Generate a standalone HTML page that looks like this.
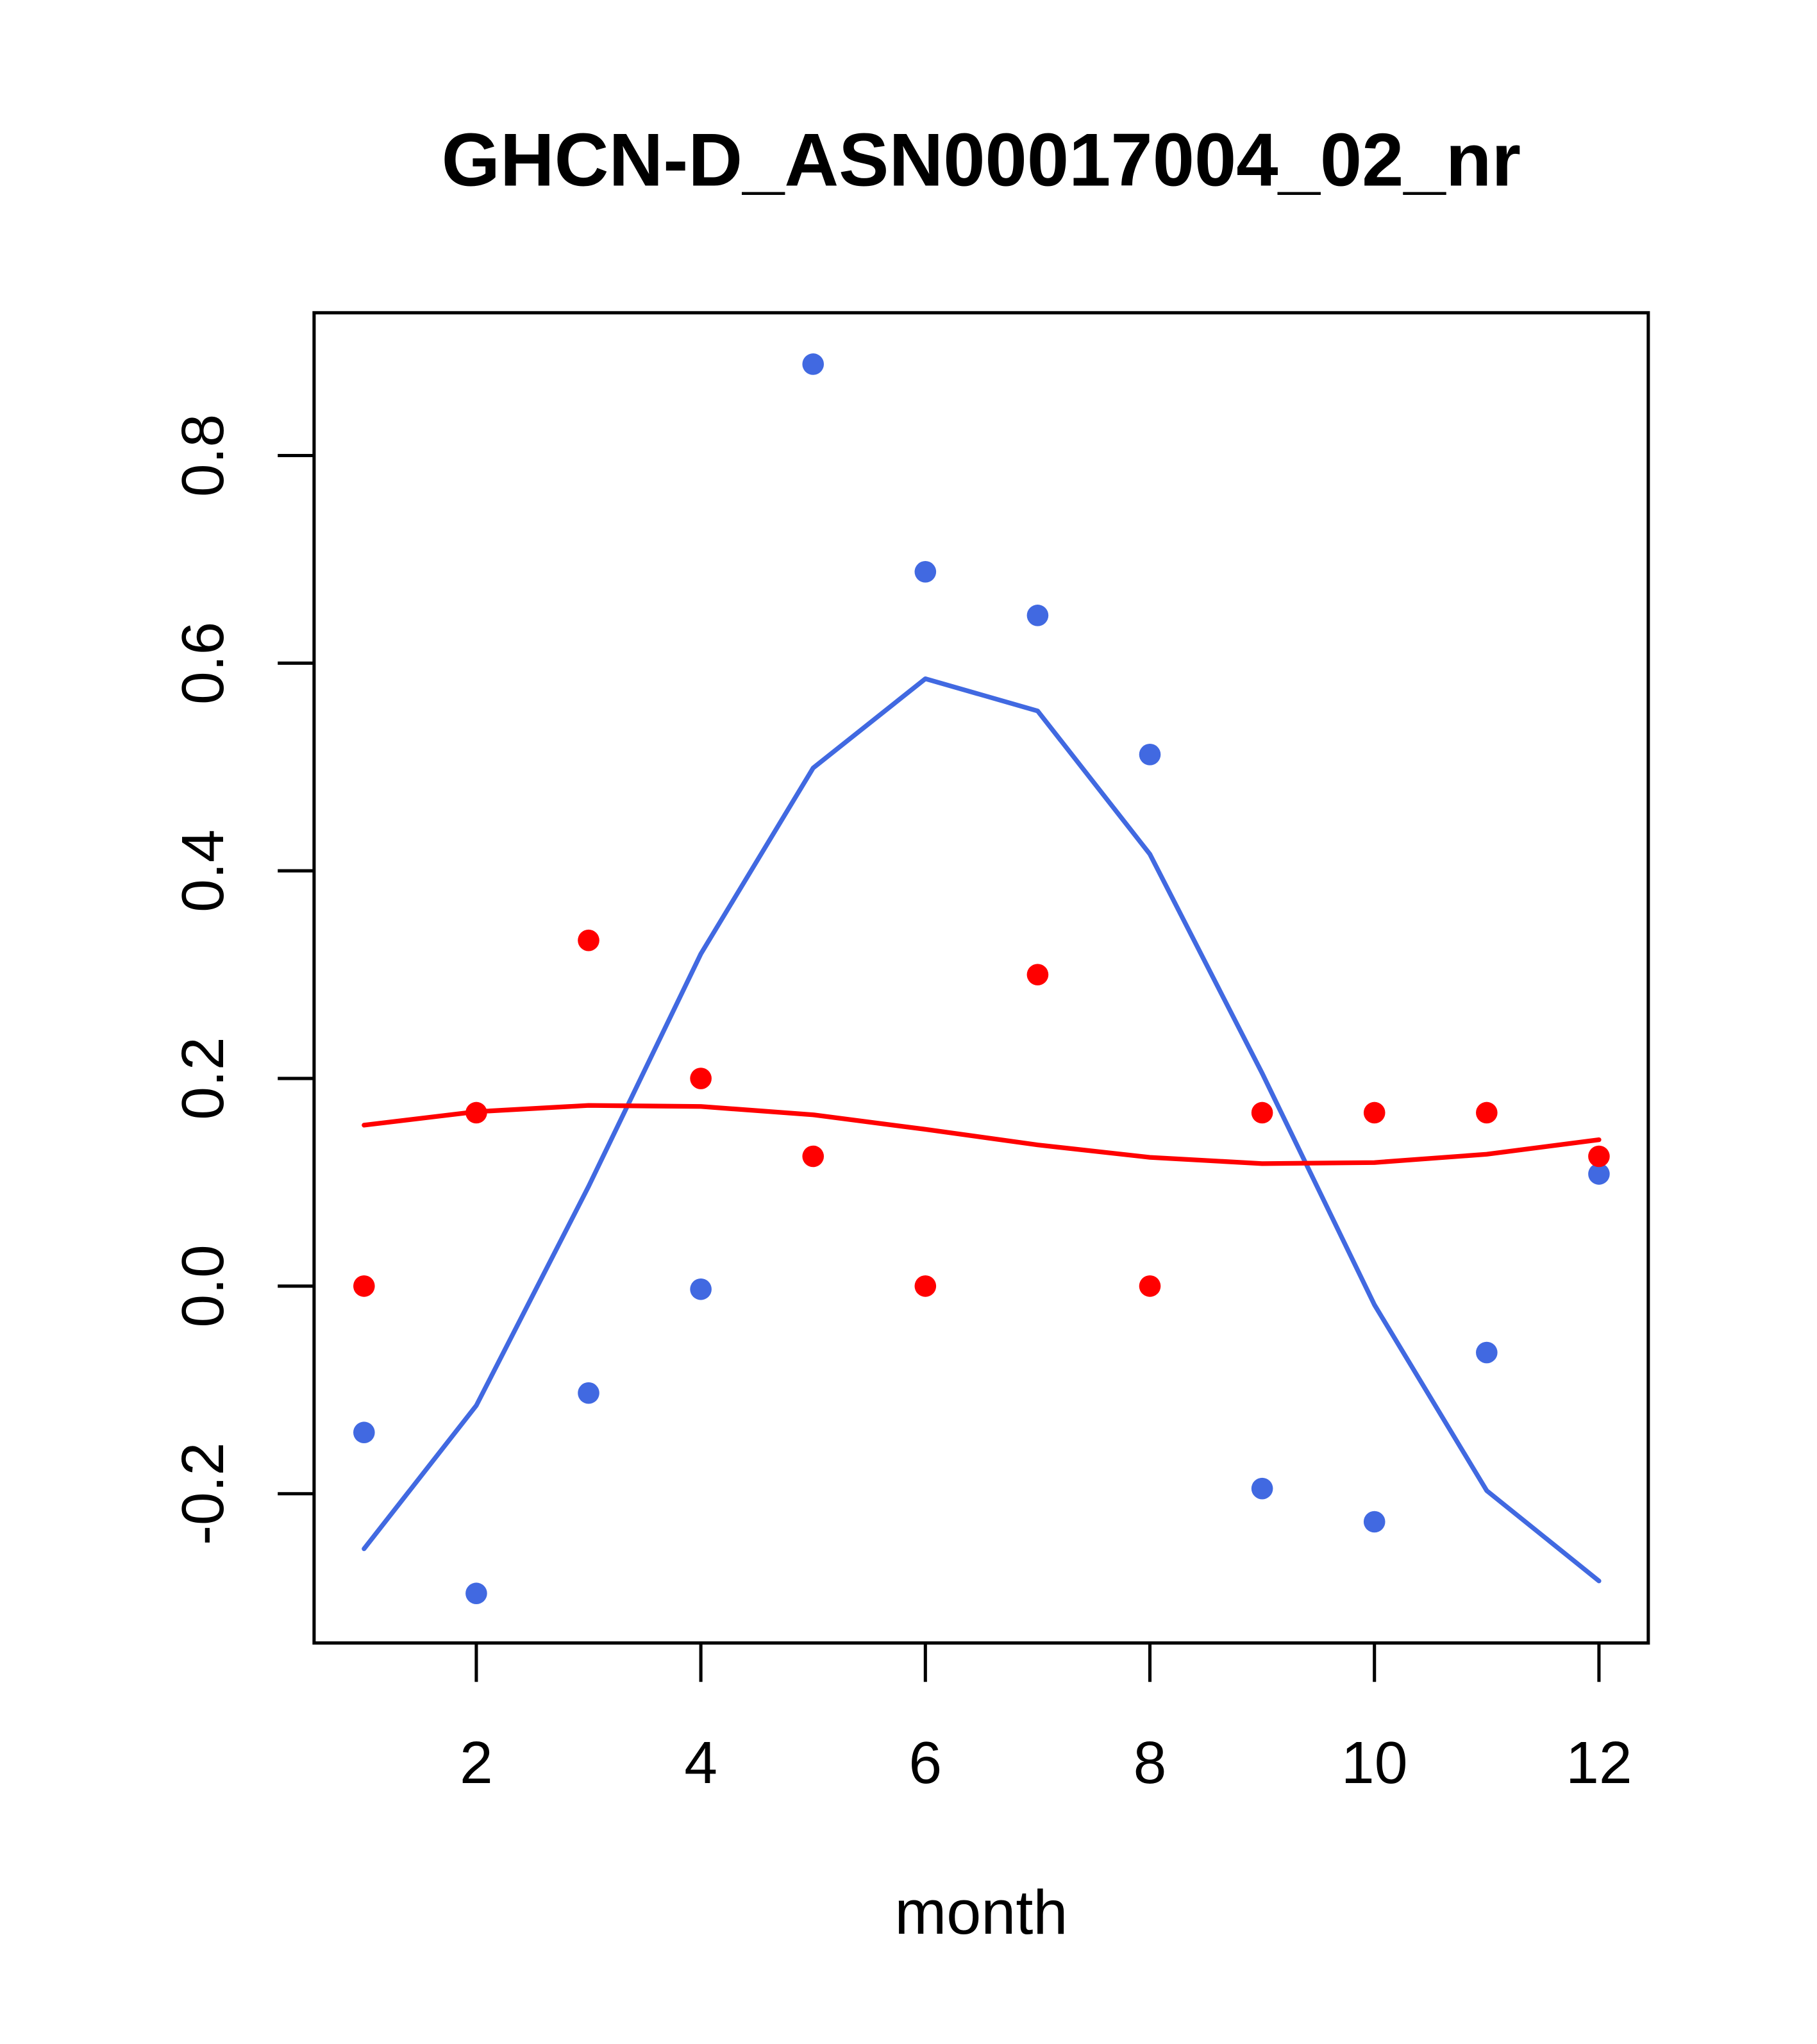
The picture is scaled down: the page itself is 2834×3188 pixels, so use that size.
<!DOCTYPE html>
<html><head><meta charset="utf-8"><style>html,body{margin:0;padding:0;background:#fff}svg{display:block}</style></head>
<body>
<svg id="chart" width="2834" height="3188" viewBox="0 0 1400 1575" preserveAspectRatio="none" xmlns="http://www.w3.org/2000/svg" font-family="Liberation Sans, Arial, sans-serif">
<rect width="1400" height="1575" fill="#fff"/>
<text x="756" y="143" text-anchor="middle" font-size="58" font-weight="bold">GHCN-D_ASN00017004_02_nr</text>
<rect x="242" y="241" width="1028" height="1025" fill="none" stroke="#000" stroke-width="2.5"/>
<text x="756" y="1490" text-anchor="middle" font-size="48">month</text>
<g id="axes"></g>
<g id="marks"></g>
</svg>
<script>
const months = [1,2,3,4,5,6,7,8,9,10,11,12];
const bluePoints = [-0.141,-0.296,-0.103,-0.003,0.888,0.688,0.646,0.512,-0.195,-0.227,-0.064,0.108];
const blueLine = [-0.253,-0.115,0.096,0.320,0.499,0.585,0.554,0.416,0.205,-0.018,-0.197,-0.284];
const redPoints = [0,0.167,0.333,0.2,0.125,0,0.3,0,0.167,0.167,0.167,0.125];
const redLine = [0.155,0.168,0.174,0.173,0.165,0.151,0.136,0.124,0.118,0.119,0.127,0.141];
const xTicks = [2,4,6,8,10,12];
const yTicks = [-0.2,0,0.2,0.4,0.6,0.8];
const yTickLabels = ["-0.2","0.0","0.2","0.4","0.6","0.8"];

const NS = "http://www.w3.org/2000/svg";
const xs = m => 280.5 + (m - 1) * 86.5;
const ys = v => 991 - v * 800;
const axes = document.getElementById('axes');
const marks = document.getElementById('marks');
function mk(tag, attrs, parent) {
  const e = document.createElementNS(NS, tag);
  for (const k in attrs) e.setAttribute(k, attrs[k]);
  parent.appendChild(e);
  return e;
}
xTicks.forEach(t => {
  const l = mk('line', {x1: xs(t), x2: xs(t), y1: 1266, y2: 1296, stroke: '#000', 'stroke-width': 2.5}, axes);
  
  
  const tx = mk('text', {x: xs(t), y: 1374, 'text-anchor': 'middle', 'font-size': 46}, axes);
  tx.textContent = String(t);
  
  
});
yTicks.forEach((t, i) => {
  const l = mk('line', {x1: 214, x2: 242, y1: ys(t), y2: ys(t), stroke: '#000', 'stroke-width': 2.5}, axes);
  
  
  const tx = mk('text', {x: 0, y: 0, 'text-anchor': 'middle', 'font-size': 46, transform: 'translate(172,' + ys(t) + ') rotate(-90)'}, axes);
  tx.textContent = yTickLabels[i];
  
  
});
function line(vals, color, name) {
  const p = mk('polyline', {points: vals.map((v, i) => xs(months[i]) + ',' + ys(v)).join(' '), fill: 'none', stroke: color, 'stroke-width': 3.6, 'stroke-linejoin': 'round', 'stroke-linecap': 'round'}, marks);
  
  
}
function pts(vals, color, name) {
  vals.forEach((v, i) => {
    const c = mk('circle', {cx: xs(months[i]), cy: ys(v), r: 8.3, fill: color}, marks);
    
    
  });
}
line(blueLine, '#4169E1', 'blue-smooth-line');
line(redLine, '#FF0000', 'red-smooth-line');
pts(bluePoints, '#4169E1', 'blue-point');
pts(redPoints, '#FF0000', 'red-point');
</script>
</body></html>
